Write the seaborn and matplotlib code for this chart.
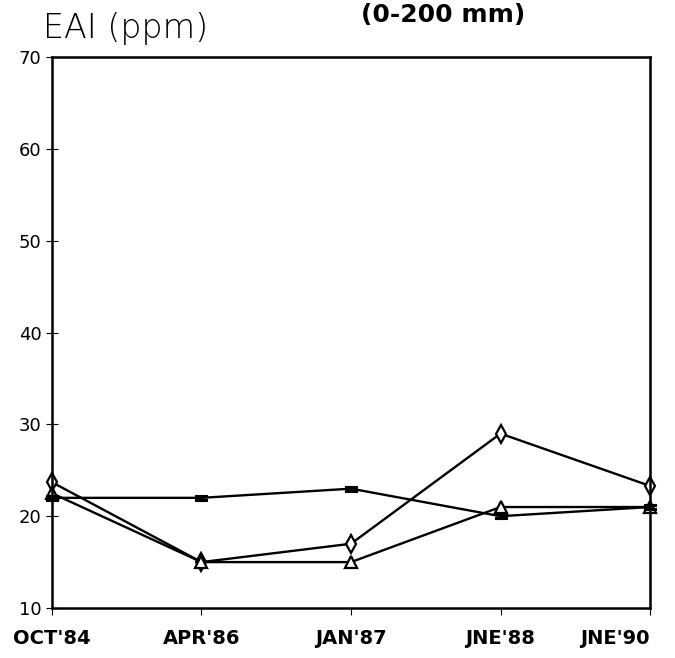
import pandas as pd
import matplotlib.pyplot as plt
import seaborn as sns

# Данные
dates = ["OCT'84", "APR'86", "JAN'87", "JNE'88", "JNE'90"]
diamond_vals = [23.7, 15, 17, 29, 23.3]
triangle_vals = [22.5, 15, 15, 21, 21]
bar_vals = [22, 22, 23, 20, 21]

sns.set_style("ticks")
plt.rcParams['font.family'] = ['DejaVu Sans']
plt.rcParams['text.color'] = 'black'
plt.rcParams['xtick.color'] = 'black'
plt.rcParams['ytick.color'] = 'black'

fig = plt.figure(figsize=(6.75, 6.58), dpi=100)
ax = fig.add_axes([0.077, 0.076, 0.886, 0.837])

pos = list(range(len(dates)))
# каждая серия отдельно, т.к. маркеры разного типа
sns.lineplot(x=pos, y=diamond_vals, marker='d', color='black', markersize=9,
             markerfacecolor='white', markeredgecolor='black', markeredgewidth=1.6,
             linewidth=1.7, ax=ax, clip_on=False)
sns.lineplot(x=pos, y=triangle_vals, marker='^', color='black', markersize=9,
             markerfacecolor='white', markeredgecolor='black', markeredgewidth=1.6,
             linewidth=1.7, ax=ax, clip_on=False)
sns.lineplot(x=pos, y=bar_vals, marker='$=$', color='black', markersize=9,
             markerfacecolor='black', markeredgecolor='black', markeredgewidth=0.8,
             linewidth=1.7, ax=ax, clip_on=False)

ax.set_xlim(0, 4)
ax.set_ylim(10, 70)
ax.set_xticks(pos)
ax.set_xticklabels(dates, fontsize=14, fontweight='bold')
ax.get_xticklabels()[-1].set_horizontalalignment('right')
ax.set_yticks([10, 20, 30, 40, 50, 60, 70])
ax.tick_params(axis='y', direction='inout', length=8, labelsize=13)
ax.tick_params(axis='x', direction='out', length=5, pad=10)
ax.set_xlabel('')
ax.set_ylabel('')
for s in ax.spines.values():
    s.set_linewidth(1.8)
    s.set_color('black')

fig.text(0.064, 0.942, 'EAI (ppm)', fontsize=24, fontweight='light', va='baseline')
fig.text(0.657, 0.966, '(0-200 mm)', fontsize=18, fontweight='bold', ha='center', va='baseline')

plt.savefig('out.png', dpi=100)
